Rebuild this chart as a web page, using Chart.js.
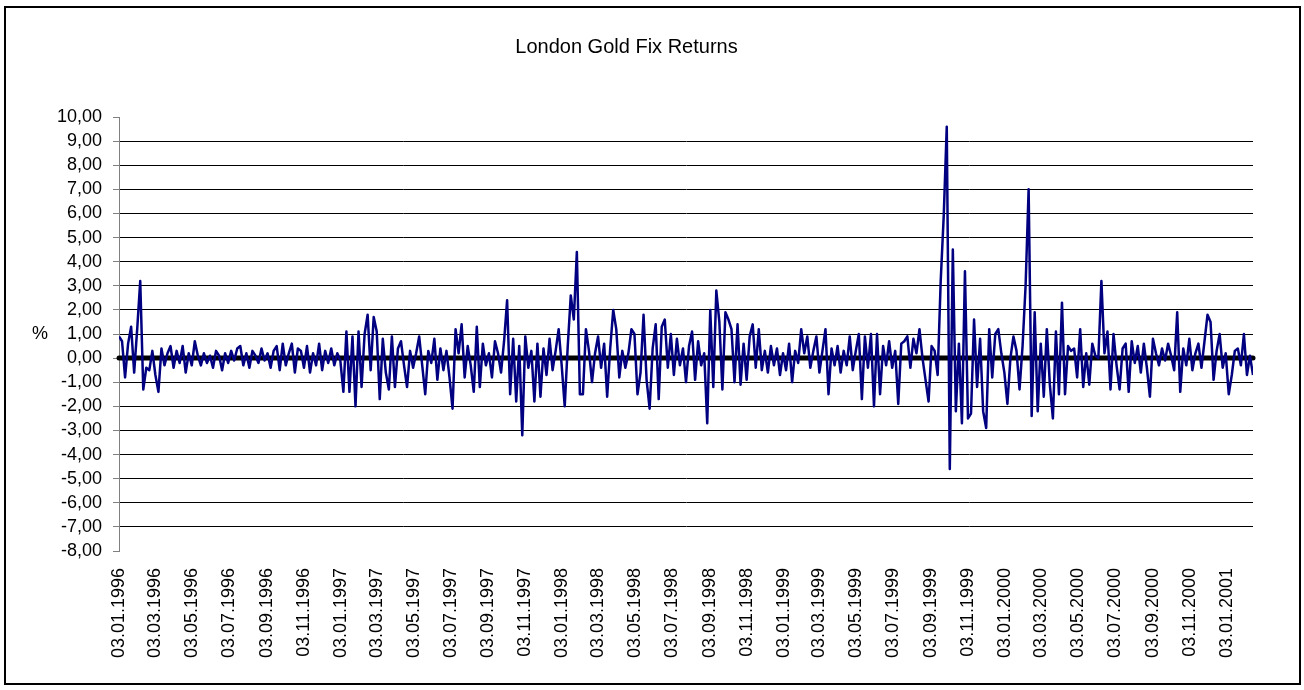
<!DOCTYPE html>
<html>
<head>
<meta charset="utf-8">
<title>London Gold Fix Returns</title>
<script src="https://cdn.jsdelivr.net/npm/chart.js@4.4.1/dist/chart.umd.min.js"></script>
<style>
  html, body { margin: 0; padding: 0; background: #fff; }
  canvas { display: block; }
</style>
</head>
<body>
<canvas id="goldChart" width="1304" height="690"></canvas>
<script>
// daily returns (%), one value every 5 days from 03.01.1996
const startDate = '03.01.1996';
const stepDays = 5;
const lastDay = 1870;

const tickLabels = [
    '03.01.1996', '03.03.1996', '03.05.1996', '03.07.1996', '03.09.1996', '03.11.1996',
    '03.01.1997', '03.03.1997', '03.05.1997', '03.07.1997', '03.09.1997', '03.11.1997',
    '03.01.1998', '03.03.1998', '03.05.1998', '03.07.1998', '03.09.1998', '03.11.1998',
    '03.01.1999', '03.03.1999', '03.05.1999', '03.07.1999', '03.09.1999', '03.11.1999',
    '03.01.2000', '03.03.2000', '03.05.2000', '03.07.2000', '03.09.2000', '03.11.2000',
    '03.01.2001'
];

const returns = [
    0.9, 0.7, -0.8, 0.6, 1.3, -0.6, 1.2, 3.2, -1.3, -0.4,
    -0.5, 0.3, -0.7, -1.4, 0.4, -0.3, 0.2, 0.5, -0.4, 0.3,
    -0.2, 0.5, -0.6, 0.2, -0.3, 0.7, 0.1, -0.3, 0.2, -0.2,
    0.1, -0.4, 0.3, 0.1, -0.5, 0.2, -0.2, 0.3, -0.1, 0.4,
    0.5, -0.3, 0.2, -0.4, 0.3, 0.1, -0.2, 0.4, -0.1, 0.2,
    -0.4, 0.3, 0.5, -0.5, 0.6, -0.3, 0.2, 0.6, -0.6, 0.4,
    0.3, -0.4, 0.5, -0.6, 0.2, -0.3, 0.6, -0.5, 0.3, -0.2,
    0.4, -0.3, 0.2, -0.1, -1.4, 1.1, -1.4, 0.9, -2.0, 1.1,
    -1.2, 1.0, 1.8, -0.5, 1.7, 1.1, -1.7, 0.8, -0.6, -1.3,
    0.9, -1.2, 0.4, 0.7, -0.3, -1.2, 0.3, -0.4, 0.2, 0.9,
    -0.3, -1.5, 0.3, -0.2, 0.8, -0.9, 0.4, -0.5, 0.3, -0.8,
    -2.1, 1.2, 0.2, 1.4, -0.8, 0.5, -0.3, -1.4, 1.3, -1.2,
    0.6, -0.3, 0.2, -0.8, 0.7, 0.2, -0.6, 0.7, 2.4, -1.5,
    0.8, -1.8, 0.5, -3.2, 0.9, -0.4, 0.3, -1.8, 0.6, -1.6,
    0.4, -0.7, 0.8, -0.5, 0.3, 1.2, -0.3, -2.0, 0.5, 2.6,
    1.6, 4.4, -1.5, -1.5, 1.2, 0.3, -1.0, 0.2, 0.9, -0.4,
    0.6, -1.6, 0.4, 2.0, 1.2, -0.8, 0.3, -0.4, 0.2, 1.2,
    1.0, -1.5, -0.6, 1.8, -0.9, -2.1, 0.4, 1.4, -1.7, 1.3,
    1.6, -0.4, 1.0, -0.7, 0.8, -0.3, 0.4, -1.0, 0.5, 1.1,
    -0.9, 0.7, -0.3, 0.2, -2.7, 2.0, -1.2, 2.8, 1.5, -1.3,
    1.9, 1.6, 1.2, -1.0, 1.4, -1.1, 0.6, -0.9, 0.9, 1.4,
    -0.4, 1.2, -0.5, 0.3, -0.6, 0.5, -0.3, 0.4, -0.7, 0.2,
    -0.5, 0.6, -1.0, 0.3, -0.2, 1.2, 0.2, 0.9, -0.4, 0.3,
    0.9, -0.6, 0.3, 1.2, -1.5, 0.4, -0.3, 0.5, -0.6, 0.3,
    -0.3, 0.9, -0.5, 0.3, 1.0, -1.7, 0.9, -0.4, 1.0, -2.0,
    1.0, -1.5, 0.5, -0.3, 0.7, -0.4, 0.3, -1.9, 0.6, 0.7,
    0.9, -0.4, 0.8, 0.2, 1.2, 0.0, -0.9, -1.8, 0.5, 0.3,
    -0.7, 3.2, 5.9, 9.6, -4.6, 4.5, -2.2, 0.6, -2.7, 3.6,
    -2.5, -2.3, 1.6, -1.2, 0.8, -2.2, -2.9, 1.2, -0.8, 1.0,
    1.2, 0.2, -0.6, -1.9, 0.0, 0.9, 0.3, -1.3, 0.5, 3.0,
    7.0, -2.4, 1.9, -2.2, 0.6, -1.6, 1.2, -1.1, -2.5, 1.1,
    -1.5, 2.3, -1.5, 0.5, 0.3, 0.4, -0.8, 1.2, -1.2, 0.2,
    -1.1, 0.6, 0.1, 0.0, 3.2, 0.2, 1.1, -1.3, 1.0, -0.3,
    -1.3, 0.4, 0.6, -1.4, 0.7, -0.2, 0.5, -0.6, 0.6, -0.4,
    -1.6, 0.8, 0.2, -0.3, 0.4, -0.1, 0.6, 0.1, -0.5, 1.9,
    -1.4, 0.4, -0.3, 0.8, -0.5, 0.2, 0.6, -0.4, 0.7, 1.8,
    1.5, -0.9, 0.3, 1.0, -0.4, 0.2, -1.5, -0.7, 0.3, 0.4,
    -0.3, 1.0, -0.7, 0.1, -0.7
];

function toDay(label) {
    const [d, m, y] = label.split('.').map(Number);
    const [d0, m0, y0] = startDate.split('.').map(Number);
    return Math.round((Date.UTC(y, m - 1, d) - Date.UTC(y0, m0 - 1, d0)) / 86400000);
}

const tickDays = tickLabels.map(toDay);
const returnPoints = returns.map((v, i) => ({ x: i * stepDays, y: v }));
const zeroPoints = returns.map((v, i) => ({ x: i * stepDays, y: 0 }));

const font = 'Liberation Sans, Arial, sans-serif';

const framePlugin = {
    id: 'frame',
    afterDraw(chart) {
        const c = chart.ctx;
        const area = chart.chartArea;
        c.save();
        c.strokeStyle = '#000';
        c.lineWidth = 2;
        c.strokeRect(5, 7, 1295, 677);
        c.fillStyle = '#000';
        c.font = '18px ' + font;
        c.textAlign = 'center';
        c.textBaseline = 'middle';
        c.fillText('%', 40, (area.top + area.bottom) / 2);
        c.restore();
    }
};

const ctx = document.getElementById('goldChart').getContext('2d');

const goldChart = new Chart(ctx, {
    type: 'line',
    data: {
        datasets: [{
            label: 'Returns',
            data: returnPoints,
            borderColor: '#000080',
            borderWidth: 2.5,
            borderJoinStyle: 'round',
            pointRadius: 0,
            tension: 0,
            order: 0
        }, {
            label: 'Zero',
            data: zeroPoints,
            borderColor: '#000',
            borderWidth: 5,
            borderCapStyle: 'round',
            pointRadius: 0,
            tension: 0,
            clip: false,
            order: 1
        }]
    },
    options: {
        responsive: false,
        devicePixelRatio: 1,
        animation: false,
        layout: {
            padding: { left: 0, right: 51, top: 0, bottom: 0 }
        },
        scales: {
            x: {
                type: 'linear',
                min: 0,
                max: lastDay,
                afterBuildTicks: axis => {
                    axis.ticks = tickDays.map(v => ({ value: v }));
                },
                afterFit: scale => {
                    scale.height = 139;
                },
                grid: {
                    display: false,
                    drawTicks: false
                },
                border: {
                    display: false
                },
                ticks: {
                    autoSkip: false,
                    minRotation: 90,
                    maxRotation: 90,
                    padding: 17,
                    color: '#000',
                    font: { family: font, size: 18 },
                    callback: (value, index) => tickLabels[index]
                }
            },
            y: {
                min: -8,
                max: 10,
                afterFit: scale => {
                    scale.width = 119;
                },
                grid: {
                    color: c => (c.tick && (c.tick.value === 10 || c.tick.value === -8)) ? 'rgba(0,0,0,0)' : '#000',
                    tickColor: '#808080',
                    tickLength: 6
                },
                border: {
                    display: true,
                    color: '#808080'
                },
                ticks: {
                    stepSize: 1,
                    autoSkip: false,
                    padding: 11,
                    color: '#000',
                    font: { family: font, size: 18 },
                    callback: v => v.toFixed(2).replace('.', ',')
                }
            }
        },
        plugins: {
            legend: { display: false },
            tooltip: { enabled: false },
            title: {
                display: true,
                text: 'London Gold Fix Returns',
                color: '#000',
                font: { family: font, size: 20, weight: 'normal' },
                padding: { top: 35, bottom: 58 }
            }
        }
    },
    plugins: [framePlugin]
});
</script>
</body>
</html>
